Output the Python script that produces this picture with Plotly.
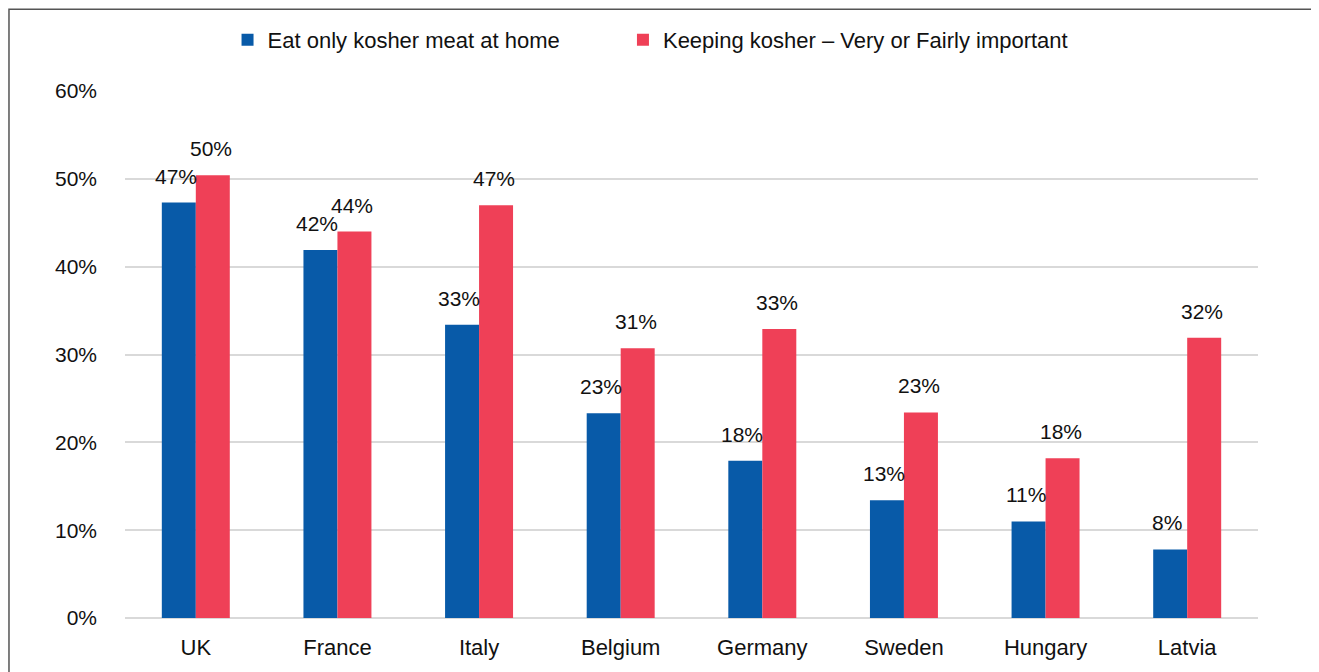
import plotly.graph_objects as go

countries = ["UK", "France", "Italy", "Belgium", "Germany", "Sweden", "Hungary", "Latvia"]
eat_kosher_meat = [47.3, 41.9, 33.4, 23.3, 17.9, 13.4, 11.0, 7.8]
keeping_kosher = [50.4, 44.0, 47.0, 30.7, 32.9, 23.4, 18.2, 31.9]
tick_vals = [0, 10, 20, 30, 40, 50, 60]
tick_text = ["0%", "10%", "20%", "30%", "40%", "50%", "60%"]

BLUE = "#085AA8"
RED = "#EF4057"
FONT = "Liberation Sans"

fig = go.Figure()
fig.add_trace(go.Bar(name="Eat only kosher meat at home", x=countries, y=eat_kosher_meat,
                     marker=dict(color=BLUE, line=dict(width=0)), legend="legend"))
fig.add_trace(go.Bar(name="Keeping kosher – Very or Fairly important", x=countries, y=keeping_kosher,
                     marker=dict(color=RED, line=dict(width=0)), legend="legend2"))

for vals, shift in ((eat_kosher_meat, -20), (keeping_kosher, 15)):
    for c, v in zip(countries, vals):
        fig.add_annotation(x=c, y=v, text=f"{round(v)}%", showarrow=False,
                           xshift=shift, yshift=13, yanchor="bottom",
                           font=dict(family=FONT, size=21, color="#111"))

fig.add_shape(type="rect", xref="paper", yref="paper",
              x0=-0.1024, x1=1.0512, y0=-0.2, y1=1.1553,
              line=dict(color="#555", width=1.5), fillcolor="rgba(0,0,0,0)", layer="below")

legend_common = dict(orientation="h", xanchor="left", y=1.095, yanchor="middle",
                     font=dict(family=FONT, size=22, color="#111"),
                     itemwidth=30, itemsizing="constant", bgcolor="rgba(0,0,0,0)")

fig.update_layout(
    width=1319, height=672,
    margin=dict(l=117, r=69, t=82, b=62),
    paper_bgcolor="white", plot_bgcolor="white",
    barmode="group", bargap=0.52, bargroupgap=0,
    font=dict(family=FONT, size=21, color="#111"),
    showlegend=True,
    legend=dict(x=0.0905, **legend_common),
    legend2=dict(x=0.4395, **legend_common),
    xaxis=dict(showgrid=False, showline=False, ticks="", tickfont=dict(size=22),
               ticklabelstandoff=14),
    yaxis=dict(range=[0, 60], tickvals=tick_vals, ticktext=tick_text,
               showgrid=True, gridcolor="#d9d9d9", gridwidth=1.5,
               zeroline=True, zerolinecolor="#d9d9d9", zerolinewidth=1.5,
               showline=False, ticks="", ticklabelstandoff=27, tickfont=dict(size=21)),
)

fig.write_html("out.html")
